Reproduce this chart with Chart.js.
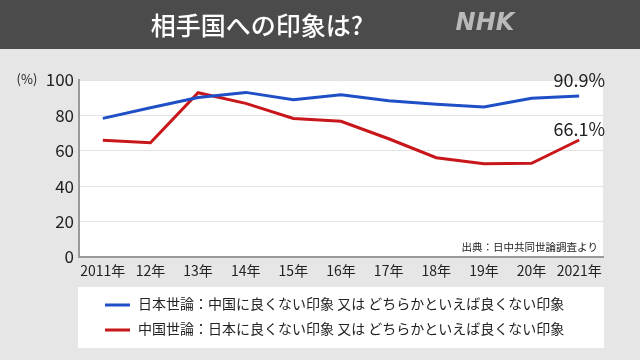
<!DOCTYPE html>
<html>
<head>
<meta charset="utf-8">
<script src="https://cdn.jsdelivr.net/npm/chart.js@4"></script>
<style>
  html, body { margin: 0; padding: 0; background: #e6e6e6; }
  #wrap { width: 640px; height: 360px; position: relative; }
</style>
</head>
<body>
<div id="wrap"><canvas id="impressionChart"></canvas></div>
<script>
const FONT = '"Noto Sans CJK JP", "Noto Sans", sans-serif';

const years = ['2011年', '12年', '13年', '14年', '15年', '16年', '17年', '18年', '19年', '20年', '2021年'];
const japanView = [78.3, 84.3, 90.1, 93.0, 88.8, 91.6, 88.3, 86.3, 84.7, 89.7, 90.9];
const chinaView = [65.9, 64.5, 92.8, 86.8, 78.3, 76.7, 66.8, 56.1, 52.7, 52.9, 66.1];
const seriesNames = [
    '日本世論：中国に良くない印象 又は どちらかといえば良くない印象',
    '中国世論：日本に良くない印象 又は どちらかといえば良くない印象'
];
const seriesColors = ['#1f4fc6', '#c8161b'];

// header, legend box and the little texts
const decorations = {
    id: 'decorations',
    beforeDraw(chart) {
        const ctx = chart.ctx;
        const area = chart.chartArea;
        ctx.save();
        ctx.fillStyle = '#e6e6e6';
        ctx.fillRect(0, 0, chart.width, chart.height);
        ctx.fillStyle = '#4b4b4b';
        ctx.fillRect(0, 0, chart.width, 49);
        ctx.fillStyle = '#ffffff';
        ctx.font = '500 25px ' + FONT;
        ctx.textAlign = 'center';
        ctx.textBaseline = 'middle';
        ctx.fillText('相手国への印象は?', 257, 25);
        ctx.fillStyle = '#b9b9b9';
        ctx.font = 'italic bold 24px "DejaVu Sans", sans-serif';
        ctx.fillText('NHK', 485, 24);
        ctx.fillStyle = '#ffffff';
        ctx.fillRect(area.left, area.top, area.right - area.left, area.bottom - area.top);
        ctx.restore();
    },
    afterDraw(chart) {
        const ctx = chart.ctx;
        const area = chart.chartArea;
        const y = chart.scales.y;
        ctx.save();
        ctx.fillStyle = '#222';
        ctx.font = '13px ' + FONT;
        ctx.textAlign = 'center';
        ctx.textBaseline = 'middle';
        ctx.fillText('(%)', 27, 79);

        ctx.font = '10.5px ' + FONT;
        ctx.textAlign = 'right';
        ctx.fillText('出典：日中共同世論調査より', area.right - 5, area.bottom - 10);

        // end values
        const last = years.length - 1;
        ctx.font = '18px ' + FONT;
        ctx.textBaseline = 'alphabetic';
        ctx.fillText(japanView[last].toFixed(1) + '%', area.right + 2, y.getPixelForValue(japanView[last]) - 9);
        ctx.fillText(chinaView[last].toFixed(1) + '%', area.right + 2, y.getPixelForValue(chinaView[last]) - 4);

        // legend
        ctx.fillStyle = '#ffffff';
        ctx.fillRect(78, 287, 526, 61);
        ctx.font = '14px ' + FONT;
        ctx.textAlign = 'left';
        ctx.textBaseline = 'middle';
        seriesNames.forEach((name, i) => {
            const ly = 305 + i * 25;
            ctx.fillStyle = seriesColors[i];
            ctx.fillRect(105, ly - 1.5, 25, 3);
            ctx.fillStyle = '#222';
            ctx.fillText(name, 138, ly - 1);
        });
        ctx.restore();
    }
};

new Chart(document.getElementById('impressionChart'), {
    type: 'line',
    data: {
        labels: years,
        datasets: [
            {
                label: seriesNames[0],
                data: japanView,
                borderColor: seriesColors[0],
                borderWidth: 3,
                pointRadius: 0,
                tension: 0
            },
            {
                label: seriesNames[1],
                data: chinaView,
                borderColor: seriesColors[1],
                borderWidth: 3,
                pointRadius: 0,
                tension: 0
            }
        ]
    },
    options: {
        responsive: true,
        maintainAspectRatio: false,
        animation: false,
        layout: { padding: { top: 80, right: 37, left: 0, bottom: 0 } },
        plugins: {
            legend: { display: false },
            tooltip: { enabled: false }
        },
        scales: {
            x: {
                offset: true,
                grid: { display: false, drawTicks: false },
                border: { color: '#9a9a9a', width: 2 },
                ticks: {
                    color: '#222',
                    font: { family: FONT, size: 14 },
                    padding: 5,
                    maxRotation: 0,
                    autoSkip: false
                },
                afterFit(scale) { scale.height = 103; }
            },
            y: {
                min: 0,
                max: 100,
                grid: { color: '#e2e2e2', drawTicks: false },
                border: { color: '#9a9a9a', width: 2 },
                ticks: {
                    stepSize: 10,
                    color: '#222',
                    padding: 5,
                    font: { family: FONT, size: 17 },
                    callback: (v) => (v % 20 === 0 ? v : '')
                },
                afterFit(scale) { scale.width = 79; }
            }
        }
    },
    plugins: [decorations]
});
</script>
</body>
</html>
